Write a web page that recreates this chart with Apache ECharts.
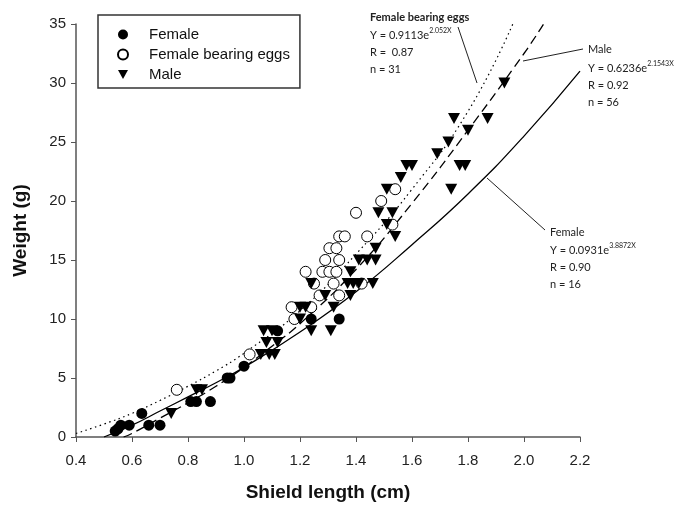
<!DOCTYPE html>
<html>
<head>
<meta charset="utf-8">
<script src="https://cdn.jsdelivr.net/npm/echarts@6/dist/echarts.min.js"></script>
<style>
  html, body { margin: 0; padding: 0; background: #fff; }
  #chart { width: 680px; height: 511px; }
</style>
</head>
<body>
<div id="chart"></div>
<script>
// scatter points [shield length cm, weight g]
const femalePoints = [
  [0.54, 0.5], [0.55, 0.7], [0.56, 1], [0.59, 1], [0.635, 2], [0.66, 1], [0.70, 1],
  [0.81, 3], [0.83, 3], [0.88, 3], [0.94, 5], [0.95, 5], [1.0, 6],
  [1.12, 9], [1.24, 10], [1.34, 10]
];
const eggPoints = [
  [0.76, 4], [1.02, 7], [1.17, 11], [1.18, 10], [1.24, 11], [1.22, 14], [1.27, 12],
  [1.25, 13], [1.28, 14], [1.305, 14], [1.33, 14], [1.29, 15], [1.34, 15], [1.305, 16],
  [1.33, 16], [1.34, 17], [1.36, 17], [1.32, 13], [1.34, 12], [1.42, 13], [1.44, 17],
  [1.40, 19], [1.49, 20], [1.54, 21], [1.53, 18]
];
const malePoints = [
  [0.74, 2], [0.83, 4], [0.85, 4],
  [1.06, 7], [1.09, 7], [1.11, 7], [1.08, 8], [1.12, 8],
  [1.07, 9], [1.10, 9], [1.24, 9], [1.31, 9], [1.20, 10],
  [1.20, 11], [1.22, 11], [1.32, 11], [1.29, 12], [1.38, 12],
  [1.24, 13], [1.37, 13], [1.39, 13], [1.41, 13], [1.46, 13], [1.38, 14],
  [1.41, 15], [1.44, 15], [1.47, 15], [1.47, 16], [1.54, 17], [1.51, 18],
  [1.48, 19], [1.53, 19], [1.51, 21], [1.56, 22], [1.58, 23], [1.60, 23],
  [1.74, 21], [1.77, 23], [1.79, 23], [1.69, 24], [1.73, 25], [1.80, 26],
  [1.75, 27], [1.87, 27], [1.93, 30]
];

// fitted curves
const femaleCurve = [
  [0.5, 0], [0.6, 1.0], [0.7, 2.2], [0.8, 3.4], [0.9, 4.6], [1.0, 5.9], [1.2, 8.9],
  [1.4, 12.3], [1.6, 16.3], [1.8, 20.6], [2.0, 25.5], [2.2, 31]
];
const maleCurve = [
  [0.57, 0], [0.6, 0.3], [0.7, 1.6], [0.8, 2.9], [0.9, 4.3], [1.0, 5.9], [1.1, 7.7],
  [1.2, 9.6], [1.4, 14.2], [1.6, 19.8], [1.8, 26.0], [2.0, 32.5], [2.07, 35]
];
const eggCurve = [
  [0.4, 0.3], [0.5, 1.1], [0.6, 2.0], [0.7, 3.1], [0.8, 4.3], [0.9, 5.6], [1.0, 7.1],
  [1.2, 10.7], [1.4, 15.5], [1.6, 21.0], [1.8, 27.6], [1.96, 35]
];

const seriesNames = ["Female", "Female bearing eggs", "Male"];

const chart = echarts.init(document.getElementById("chart"));
const axisFont = "Liberation Sans";
const noteFont = "Lato";

function noteText(x, y, text, bold) {
  return {
    type: "text",
    x: x,
    y: y,
    style: {
      text: text,
      fontFamily: noteFont,
      fontSize: 11,
      fontWeight: bold ? "bold" : "normal",
      fill: "#222",
      verticalAlign: "middle",
    },
  };
}

function eqText(x, y, base, sup) {
  return {
    type: "text",
    x: x,
    y: y,
    style: {
      text: "{b|" + base + "}{s|" + sup + "}",
      verticalAlign: "middle",
      rich: {
        b: { fontFamily: noteFont, fontSize: 11, fill: "#222", lineHeight: 14, verticalAlign: "bottom" },
        s: { fontFamily: noteFont, fontSize: 7, fill: "#222", lineHeight: 14, verticalAlign: "top" },
      },
    },
  };
}

function leader(x1, y1, x2, y2) {
  return {
    type: "line",
    shape: { x1: x1, y1: y1, x2: x2, y2: y2 },
    style: { stroke: "#222", lineWidth: 1 },
  };
}

const option = {
  animation: false,
  backgroundColor: "#fff",
  grid: { left: 76, right: 100, top: 24, bottom: 74 },
  legend: {
    data: seriesNames,
    orient: "vertical",
    left: 98,
    top: 15,
    itemWidth: 10,
    itemHeight: 10,
    itemGap: 5,
    padding: [12, 10, 6, 19],
    borderColor: "#333",
    borderWidth: 1.5,
    textStyle: {
      fontFamily: axisFont,
      fontSize: 15,
      color: "#111",
      lineHeight: 12,
      padding: [0, 0, 0, 16],
    },
  },
  xAxis: {
    type: "value",
    min: 0.4,
    max: 2.2,
    interval: 0.2,
    name: "Shield length (cm)",
    nameLocation: "middle",
    nameGap: 46,
    nameTextStyle: { fontFamily: axisFont, fontSize: 19, fontWeight: "bold", color: "#111" },
    splitLine: { show: false },
    axisLine: { lineStyle: { color: "#555", width: 1.5 } },
    axisTick: { inside: false, length: 5, lineStyle: { color: "#555" } },
    axisLabel: {
      fontFamily: axisFont,
      fontSize: 15,
      color: "#222",
      margin: 16,
      formatter: (v) => v.toFixed(1),
    },
  },
  yAxis: {
    type: "value",
    min: 0,
    max: 35,
    interval: 5,
    name: "Weight (g)",
    nameLocation: "middle",
    nameGap: 46,
    nameTextStyle: { fontFamily: axisFont, fontSize: 19, fontWeight: "bold", color: "#111" },
    splitLine: { show: false },
    axisLine: { show: true, lineStyle: { color: "#555", width: 1.5 } },
    axisTick: { show: true, inside: false, length: 5, lineStyle: { color: "#555" } },
    axisLabel: { fontFamily: axisFont, fontSize: 15, color: "#222", margin: 10 },
  },
  series: [
    {
      name: "Female bearing eggs",
      type: "scatter",
      symbol: "circle",
      symbolSize: 11,
      itemStyle: { color: "#fff", borderColor: "#000", borderWidth: 1, opacity: 1 },
      data: eggPoints,
      z: 3,
    },
    {
      name: "Female",
      type: "scatter",
      symbol: "circle",
      symbolSize: 11,
      itemStyle: { color: "#000", opacity: 1 },
      data: femalePoints,
      z: 4,
    },
    {
      name: "Male",
      type: "scatter",
      symbol: "path://M0,0L20,0L10,18Z",
      symbolSize: [12, 11],
      itemStyle: { color: "#000", opacity: 1 },
      data: malePoints,
      z: 5,
    },
    {
      name: "femaleFit",
      type: "line",
      smooth: true,
      showSymbol: false,
      silent: true,
      lineStyle: { color: "#000", width: 1.3, type: "solid" },
      data: femaleCurve,
      z: 2,
    },
    {
      name: "maleFit",
      type: "line",
      smooth: true,
      showSymbol: false,
      silent: true,
      lineStyle: { color: "#000", width: 1.3, type: [9, 5] },
      data: maleCurve,
      z: 2,
    },
    {
      name: "eggFit",
      type: "line",
      smooth: true,
      showSymbol: false,
      silent: true,
      lineStyle: { color: "#000", width: 1.2, type: [1.5, 3.5] },
      data: eggCurve,
      z: 2,
    },
  ],
  graphic: [
    leader(458, 27, 477, 83),
    leader(523, 61, 583, 49),
    leader(487, 178, 545, 230),
    noteText(370, 17, "Female bearing eggs", true),
    eqText(370, 34, "Y = 0.9113e", "2.052X"),
    noteText(370, 52, "R =  0.87"),
    noteText(370, 69, "n = 31"),
    noteText(588, 49, "Male"),
    eqText(588, 67, "Y = 0.6236e", "2.1543X"),
    noteText(588, 85, "R = 0.92"),
    noteText(588, 102, "n = 56"),
    noteText(550, 232, "Female"),
    eqText(550, 249, "Y = 0.0931e", "3.8872X"),
    noteText(550, 267, "R = 0.90"),
    noteText(550, 284, "n = 16"),
  ],
};

chart.setOption(option);
</script>
</body>
</html>
